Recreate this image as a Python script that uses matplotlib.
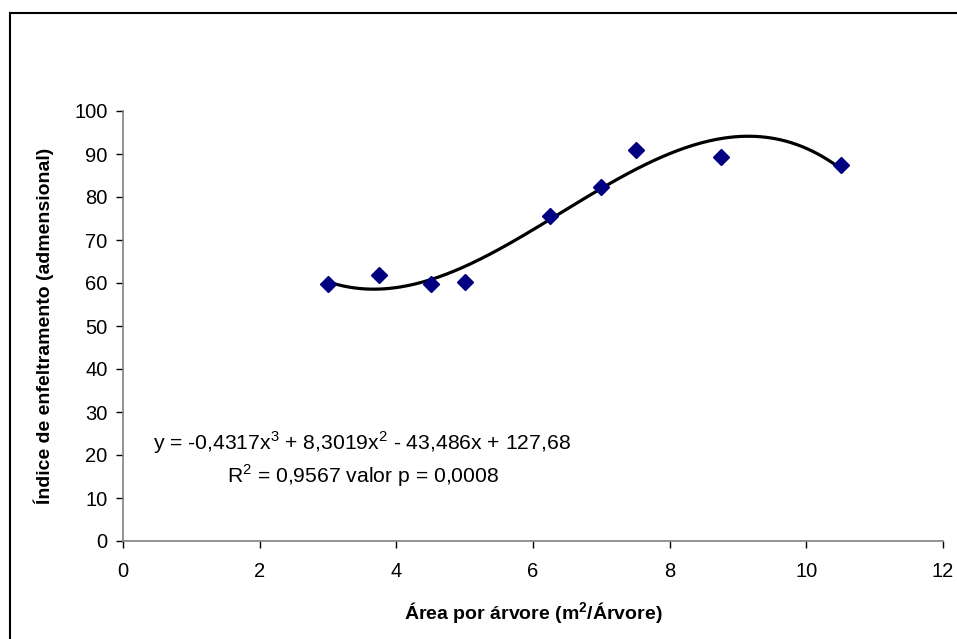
import numpy as np
import matplotlib
matplotlib.use("Agg")
import matplotlib.pyplot as plt
from matplotlib.lines import Line2D

plt.rcParams['font.family'] = ['Liberation Sans', 'DejaVu Sans']
plt.rcParams['mathtext.fontset'] = 'custom'
plt.rcParams['mathtext.rm'] = 'Liberation Sans'
plt.rcParams['mathtext.bf'] = 'Liberation Sans:bold'

# data
area = [3.0, 3.75, 4.5, 5.0, 6.25, 7.0, 7.5, 8.75, 10.5]
indice = [59.7, 61.9, 59.8, 60.3, 75.5, 82.3, 91.0, 89.2, 87.5]

# trendline coefficients as printed on the chart (x^3, x^2, x, 1)
coefs = [-0.4317, 8.3019, -43.486, 127.68]
eq_text = "y = -0,4317x$^3$ + 8,3019x$^2$ - 43,486x + 127,68"
r2_text = "R$^2$ = 0,9567 valor p = 0,0008"

x_ticks = [0, 2, 4, 6, 8, 10, 12]
y_ticks = [0, 10, 20, 30, 40, 50, 60, 70, 80, 90, 100]

fig = plt.figure(figsize=(9.57, 6.39), dpi=100)
fig.set_facecolor('#FFFFFF')
ax = fig.add_axes([123 / 957, 1 - 541 / 639, 820 / 957, 430 / 639])

# outer chart frame (cut off at right and bottom)
fx = 9.5 / 957
fy = 1 - 13 / 639
fig.add_artist(Line2D([fx, 1.0], [fy, fy], color='black', lw=1.5, transform=fig.transFigure))
fig.add_artist(Line2D([fx, fx], [fy, 0.0], color='black', lw=1.5, transform=fig.transFigure))

# trendline
xs = np.linspace(min(area), max(area), 200)
ax.plot(xs, np.polyval(coefs, xs), color='black', lw=2.3, zorder=2)
# points
ax.plot(area, indice, linestyle='none', marker='D', markersize=8,
        color='#000080', zorder=3)

ax.set_xlim(0, 12)
ax.set_ylim(0, 100)
ax.set_xticks(x_ticks)
ax.set_yticks(y_ticks)
ax.tick_params(labelsize=14.5, length=5, width=1, color='black')
ax.tick_params(axis='y', pad=6)
ax.tick_params(axis='x', pad=10)
for s in ['top', 'right']:
    ax.spines[s].set_visible(False)
for s in ['left', 'bottom']:
    ax.spines[s].set_color('#808080')
    ax.spines[s].set_linewidth(1.2)

ax.set_xlabel("Área por árvore (m$^\\mathbf{2}$/Árvore)", fontsize=14, fontweight='bold', labelpad=14)
ax.set_ylabel("Índice de enfeltramento (admensional)", fontsize=14, fontweight='bold', labelpad=15)

ax.text(0.44, 22.8, eq_text, fontsize=15.2, ha='left', va='center')
ax.text(3.51, 15.3, r2_text, fontsize=15.2, ha='center', va='center')

fig.savefig("out.png", dpi=100)
